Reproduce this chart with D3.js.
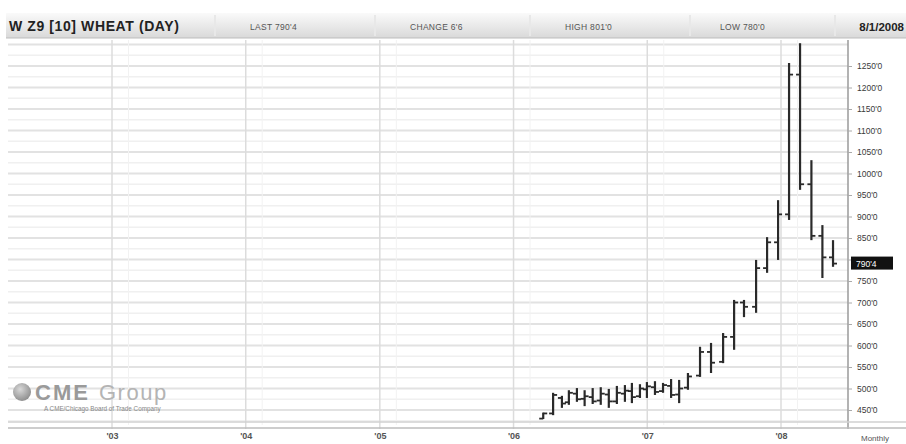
<!DOCTYPE html>
<html>
<head>
<meta charset="utf-8">
<script src="https://cdn.jsdelivr.net/npm/d3@7/dist/d3.min.js"></script>
<style>
  html, body { margin: 0; padding: 0; background: #fff; }
  svg { display: block; font-family: "Liberation Sans", Arial, sans-serif; }
</style>
</head>
<body>
<div id="chart"></div>
<script>
// bar dates (one OHLC bar each)
var barDates = [
  '2006-03-23', '2006-04-19', '2006-05-13', '2006-06-01', '2006-06-23', '2006-07-14',
  '2006-08-05', '2006-08-27', '2006-09-18', '2006-10-10', '2006-11-01', '2006-11-20',
  '2006-12-12', '2006-12-31', '2007-01-22', '2007-02-13', '2007-03-07', '2007-03-29',
  '2007-04-22', '2007-05-25', '2007-06-24', '2007-07-27', '2007-08-26', '2007-09-22',
  '2007-10-25', '2007-11-24', '2007-12-24', '2008-01-23', '2008-02-22', '2008-03-24',
  '2008-04-23', '2008-05-22'
];
var opens  = [430, 442, 478, 468, 488, 476, 480, 472, 486, 470, 488, 494, 482, 498, 503, 494, 506, 486, 502, 530, 585, 562, 620, 700, 690, 780, 840, 905, 1230, 975, 855, 805];
var highs  = [444, 490, 483, 496, 501, 496, 501, 503, 499, 506, 508, 513, 510, 515, 517, 513, 522, 520, 536, 597, 606, 629, 706, 706, 799, 852, 938, 1257, 1303, 1031, 880, 845];
var lows   = [429, 438, 455, 462, 469, 459, 464, 462, 455, 464, 469, 466, 478, 478, 485, 490, 478, 466, 497, 527, 536, 559, 590, 666, 676, 769, 799, 892, 962, 845, 757, 783];
var closes = [442, 485, 465, 490, 475, 482, 470, 488, 470, 490, 495, 480, 500, 505, 492, 508, 485, 500, 528, 585, 560, 620, 700, 690, 780, 840, 905, 1230, 975, 855, 805, 790.5];

var priceTicks = [450, 500, 550, 600, 650, 700, 750, 800, 850, 900, 950, 1000, 1050, 1100, 1150, 1200, 1250];
var yearTicks = ['2003', '2004', '2005', '2006', '2007', '2008'];
var yearLabels = ["'03", "'04", "'05", "'06", "'07", "'08"];
var headerItems = ['LAST 790\'4', 'CHANGE 6\'6', 'HIGH 801\'0', 'LOW 780\'0'];
var lastPrice = 790.5;

var W = 906, H = 444;
var plot = { left: 8, right: 848, top: 40, bottom: 425 };

var svg = d3.select('#chart').append('svg')
  .attr('width', W).attr('height', H);

var defs = svg.append('defs');
var hg = defs.append('linearGradient').attr('id', 'hdr').attr('x1', 0).attr('x2', 0).attr('y1', 0).attr('y2', 1);
hg.append('stop').attr('offset', '0%').attr('stop-color', '#fafafa');
hg.append('stop').attr('offset', '100%').attr('stop-color', '#d9d9d9');
var gg = defs.append('radialGradient').attr('id', 'globe').attr('cx', '40%').attr('cy', '35%').attr('r', '70%');
gg.append('stop').attr('offset', '0%').attr('stop-color', '#d8d8d8');
gg.append('stop').attr('offset', '100%').attr('stop-color', '#8a8a8a');

var fmtPrice = function (p) { return Math.floor(p) + "'" + Math.round((p - Math.floor(p)) * 8); };

var y = d3.scaleLinear().domain([450, 1250]).range([410, 66]);
var x = d3.scaleTime()
  .domain([new Date(2003, 0, 1), new Date(2008, 0, 1)])
  .range([112, 781]);

// horizontal grid, every 25 with 50s stronger
var grid = svg.append('g');
d3.range(425, 1325, 25).forEach(function (p) {
  var yy = y(p);
  if (yy < plot.top || yy > plot.bottom - 4) { return; }
  grid.append('line')
    .attr('x1', plot.left).attr('x2', plot.right)
    .attr('y1', yy).attr('y2', yy)
    .attr('stroke', p % 50 === 0 ? '#e2e2e2' : '#f0f0f0')
    .attr('stroke-width', p % 50 === 0 ? 2 : 1.5);
});

// vertical grid at year starts
yearTicks.forEach(function (yr) {
  var xx = x(new Date(+yr, 0, 1));
  grid.append('line')
    .attr('x1', xx).attr('x2', xx)
    .attr('y1', plot.top).attr('y2', plot.bottom + 4)
    .attr('stroke', '#dcdcdc').attr('stroke-width', 1.5);
  var xm = x(new Date(+yr, 1, 15));
  grid.append('line')
    .attr('x1', xm).attr('x2', xm)
    .attr('y1', plot.top).attr('y2', plot.bottom)
    .attr('stroke', '#f2f2f2').attr('stroke-width', 1);
});

// header bar
var hdr = svg.append('g');
hdr.append('rect').attr('x', 6).attr('y', 13).attr('width', W - 6).attr('height', 25)
  .attr('fill', 'url(#hdr)');
hdr.append('line').attr('x1', 6).attr('x2', W).attr('y1', 38).attr('y2', 38)
  .attr('stroke', '#bdbdbd');
hdr.append('text').attr('x', 9).attr('y', 31)
  .attr('font-size', 14).attr('font-weight', 'bold').attr('fill', '#222')
  .attr('letter-spacing', '0.6')
  .text('W Z9 [10]  WHEAT (DAY)');
var segX = [215, 375, 530, 690];
var txtX = [250, 410, 565, 720];
headerItems.forEach(function (t, i) {
  hdr.append('line').attr('x1', segX[i]).attr('x2', segX[i]).attr('y1', 15).attr('y2', 36)
    .attr('stroke', '#e8e8e8').attr('stroke-width', 2);
  hdr.append('text').attr('x', txtX[i]).attr('y', 30)
    .attr('font-size', 8.5).attr('fill', '#555').attr('letter-spacing', '0.3')
    .text(t);
});
hdr.append('line').attr('x1', 835).attr('x2', 835).attr('y1', 15).attr('y2', 36)
  .attr('stroke', '#e8e8e8').attr('stroke-width', 2);
hdr.append('text').attr('x', 904).attr('y', 31).attr('text-anchor', 'end')
  .attr('font-size', 11.5).attr('font-weight', 'bold').attr('fill', '#222')
  .text('8/1/2008');

// axes lines
svg.append('line').attr('x1', plot.right).attr('x2', plot.right)
  .attr('y1', plot.top).attr('y2', plot.bottom + 4)
  .attr('stroke', '#9a9a9a').attr('stroke-width', 1.5);
svg.append('line').attr('x1', plot.left).attr('x2', W)
  .attr('y1', 422).attr('y2', 422).attr('stroke', '#d0d0d0').attr('stroke-width', 1.5);
svg.append('line').attr('x1', plot.left).attr('x2', W)
  .attr('y1', 428).attr('y2', 428).attr('stroke', '#bdbdbd').attr('stroke-width', 1.5);

// right price axis (the label under the last-price marker is hidden, as in the source)
var ly = y(lastPrice);
var yAxis = svg.append('g').attr('transform', 'translate(' + plot.right + ',0)')
  .call(d3.axisRight(y).tickValues(priceTicks).tickSize(4).tickPadding(5)
    .tickFormat(function (p) { return Math.abs(y(p) - ly) < 10 ? '' : fmtPrice(p); }));
yAxis.select('.domain').remove();
yAxis.selectAll('line').attr('stroke', '#aaa');
yAxis.selectAll('text').attr('font-size', 8.5).attr('fill', '#3a3a3a')
  .attr('font-family', '"Liberation Sans", Arial, sans-serif');

// last price marker
svg.append('rect').attr('x', plot.right + 3).attr('y', ly - 7).attr('width', 42).attr('height', 13)
  .attr('fill', '#111');
svg.append('text').attr('x', plot.right + 8).attr('y', ly + 3)
  .attr('font-size', 8.5).attr('fill', '#fff').text(fmtPrice(lastPrice));

// bottom year labels
var xAxis = svg.append('g').attr('transform', 'translate(0,430)')
  .call(d3.axisBottom(x).tickValues(yearTicks.map(function (v) { return new Date(+v, 0, 1); }))
    .tickSize(0).tickPadding(3)
    .tickFormat(function (d, i) { return yearLabels[i]; }));
xAxis.select('.domain').remove();
xAxis.selectAll('text').attr('font-size', 9).attr('font-weight', 'bold').attr('fill', '#555')
  .attr('font-family', '"Liberation Sans", Arial, sans-serif');
svg.append('text').attr('x', 861).attr('y', 441)
  .attr('font-size', 8).attr('fill', '#555').text('Monthly');

// OHLC bars
var bars = barDates.map(function (d, i) {
  return { date: d3.timeParse('%Y-%m-%d')(d), o: opens[i], h: highs[i], l: lows[i], c: closes[i] };
});
var bg = svg.append('g').attr('stroke', '#2a2a2a');
bars.forEach(function (b) {
  var bx = x(b.date);
  bg.append('line').attr('x1', bx).attr('x2', bx).attr('y1', y(b.h)).attr('y2', y(b.l))
    .attr('stroke-width', 2.2);
  bg.append('line').attr('x1', bx - 4).attr('x2', bx).attr('y1', y(b.o)).attr('y2', y(b.o))
    .attr('stroke-width', 1.8);
  bg.append('line').attr('x1', bx).attr('x2', bx + 4).attr('y1', y(b.c)).attr('y2', y(b.c))
    .attr('stroke-width', 1.8);
});

// CME Group logo
var logo = svg.append('g');
logo.append('line').attr('x1', 50).attr('x2', 115).attr('y1', 367).attr('y2', 367)
  .attr('stroke', '#e2e2e2').attr('stroke-width', 2);
logo.append('circle').attr('cx', 22).attr('cy', 392).attr('r', 9).attr('fill', 'url(#globe)');
logo.append('text').attr('x', 35).attr('y', 400)
  .attr('font-size', 22).attr('font-weight', 'bold').attr('fill', '#9a9a9a')
  .attr('letter-spacing', '2').text('CME');
logo.append('text').attr('x', 99).attr('y', 400)
  .attr('font-size', 22).attr('fill', '#b4b4b4').attr('letter-spacing', '1.5').text('Group');
logo.append('text').attr('x', 44).attr('y', 411)
  .attr('font-size', 6.3).attr('fill', '#888')
  .text('A CME/Chicago Board of Trade Company');
</script>
</body>
</html>
